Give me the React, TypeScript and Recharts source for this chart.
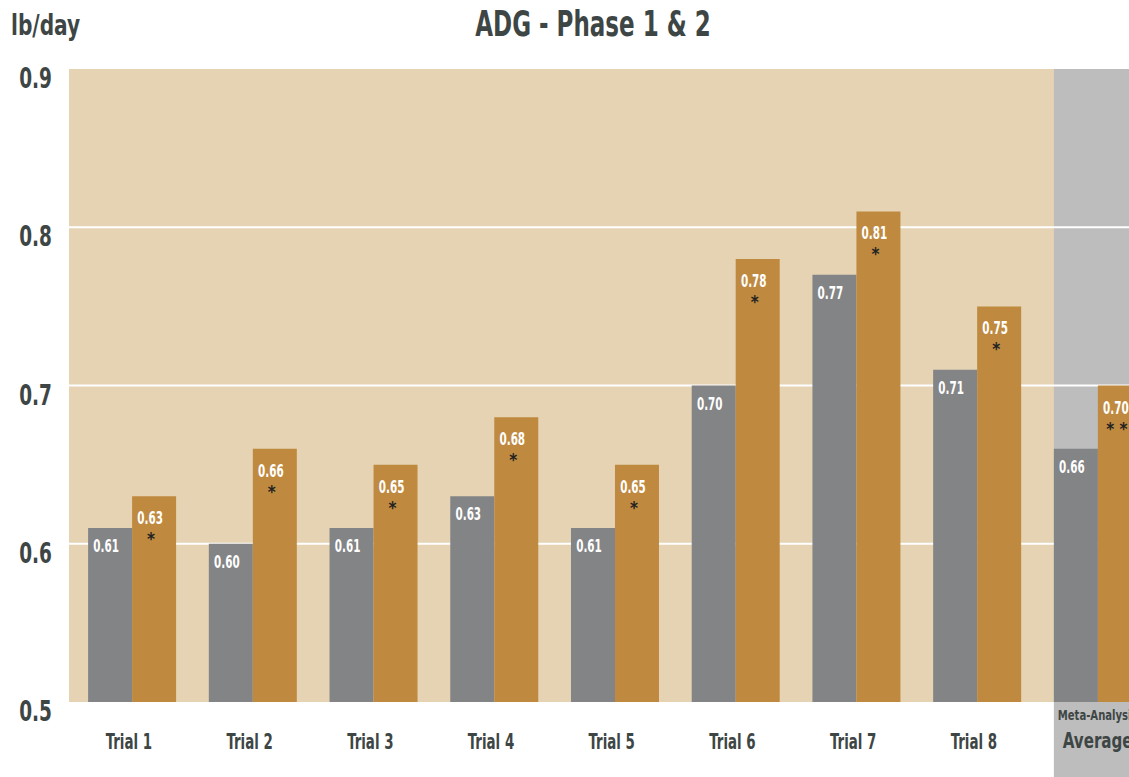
import { Bar, BarChart, CartesianGrid, LabelList, ReferenceArea, XAxis, YAxis } from 'recharts';

const categories = ['Trial 1', 'Trial 2', 'Trial 3', 'Trial 4', 'Trial 5', 'Trial 6', 'Trial 7', 'Trial 8', 'Average'];
const controlValues = [0.61, 0.6, 0.61, 0.63, 0.61, 0.7, 0.77, 0.71, 0.66];
const treatedValues = [0.63, 0.66, 0.65, 0.68, 0.65, 0.78, 0.81, 0.75, 0.7];
const significance = ['*', '*', '*', '*', '*', '*', '*', '*', '* *'];
const yTicks = [0.5, 0.6, 0.7, 0.8, 0.9];
const gridValues = [0.6, 0.7, 0.8];

const data = categories.map((name, i) => ({
  name,
  control: controlValues[i],
  treated: treatedValues[i],
  sig: significance[i],
}));

const FONT = '"DejaVu Sans Condensed", "DejaVu Sans", sans-serif';
const TEXT = '#3e4645';
const CHART_W = 1158;
const CHART_H = 777;
const GAP = 0.1375;

// squeezed text, the reference uses a narrow gothic face
const Narrow = ({ x, y, scale, size, fill = TEXT, anchor = 'middle', family = FONT, children }: any) => (
  <text
    transform={`translate(${x} ${y}) scale(${scale} 1)`}
    textAnchor={anchor}
    fontFamily={family}
    fontWeight={700}
    fontSize={size}
    fill={fill}
  >
    {children}
  </text>
);

const YTick = ({ x, y, payload }: any) => (
  <Narrow x={x - 17} y={y + 19} scale={0.71} size={29} anchor="end">
    {Number(payload.value).toFixed(1)}
  </Narrow>
);

const XTick = ({ x, y, payload }: any) => {
  if (payload.value === 'Average') {
    return (
      <g>
        <Narrow x={x} y={y + 18} scale={0.8} size={14}>Meta-Analysis</Narrow>
        <Narrow x={x} y={y + 46} scale={0.8} size={21}>Average</Narrow>
      </g>
    );
  }
  return (
    <Narrow x={x - 3} y={y + 47} scale={0.71} size={21}>
      {payload.value}
    </Narrow>
  );
};

const valueLabel = (offset: number) => (props: any) => {
  const { x, y, width, value } = props;
  return (
    <Narrow x={x + width / 2 - 4} y={y + offset} scale={0.68} size={17} fill="#ffffff">
      {Number(value).toFixed(2)}
    </Narrow>
  );
};

const sigLabel = (props: any) => {
  const { x, y, width, value } = props;
  return (
    <Narrow x={x + width / 2 - 3} y={y + 49} scale={0.9} size={17} fill="#222222" family="DejaVu Sans">
      {value}
    </Narrow>
  );
};

const AverageColumn = (props: any) => {
  const { x, y, width } = props;
  return <rect x={x + width * GAP} y={y} width={width} height={CHART_H - y} fill="#bdbdbd" />;
};

export default function App() {
  return (
    <div style={{ position: 'absolute', left: 0, top: 0, width: 1129, height: 777, overflow: 'hidden', background: '#fff' }}>
      <div
        style={{
          position: 'absolute',
          left: 11,
          top: 12,
          fontFamily: FONT,
          fontWeight: 700,
          fontSize: 28,
          lineHeight: '28px',
          color: TEXT,
          whiteSpace: 'nowrap',
          transform: 'scaleX(0.8)',
          transformOrigin: 'left center',
        }}
      >
        lb/day
      </div>
      <div
        style={{
          position: 'absolute',
          left: 343,
          width: 500,
          top: 6,
          textAlign: 'center',
          fontFamily: FONT,
          fontWeight: 700,
          fontSize: 36,
          lineHeight: '36px',
          color: TEXT,
          whiteSpace: 'nowrap',
          transform: 'scaleX(0.71)',
          transformOrigin: 'center center',
        }}
      >
        ADG - Phase 1 &amp; 2
      </div>
      <BarChart
        width={CHART_W}
        height={CHART_H}
        data={data}
        margin={{ top: 69, right: 0, bottom: 0, left: 0 }}
        barGap={0}
        barCategoryGap="13.75%"
      >
        <CartesianGrid horizontal={false} vertical={false} fill="#e5d3b4" zIndex={-100} />
        <ReferenceArea x1="Average" x2="Average" ifOverflow="visible" shape={AverageColumn} zIndex={-90} />
        <CartesianGrid
          vertical={false}
          horizontalValues={gridValues}
          stroke="#ffffff"
          strokeWidth={2}
          strokeDasharray=""
          zIndex={-80}
        />
        <XAxis
          dataKey="name"
          height={75}
          axisLine={false}
          tickLine={false}
          tickSize={0}
          tickMargin={0}
          padding={{ left: 2.5, right: 0 }}
          interval={0}
          tick={<XTick />}
        />
        <YAxis
          width={69}
          domain={[0.5, 0.9]}
          ticks={yTicks}
          axisLine={false}
          tickLine={false}
          tickSize={0}
          tickMargin={0}
          tick={<YTick />}
          allowDataOverflow
        />
        <Bar dataKey="control" fill="#838486" isAnimationActive={false}>
          <LabelList dataKey="control" content={valueLabel(24)} />
        </Bar>
        <Bar dataKey="treated" fill="#bf8a3f" isAnimationActive={false}>
          <LabelList dataKey="treated" content={valueLabel(28)} />
          <LabelList dataKey="sig" content={sigLabel} />
        </Bar>
      </BarChart>
    </div>
  );
}
